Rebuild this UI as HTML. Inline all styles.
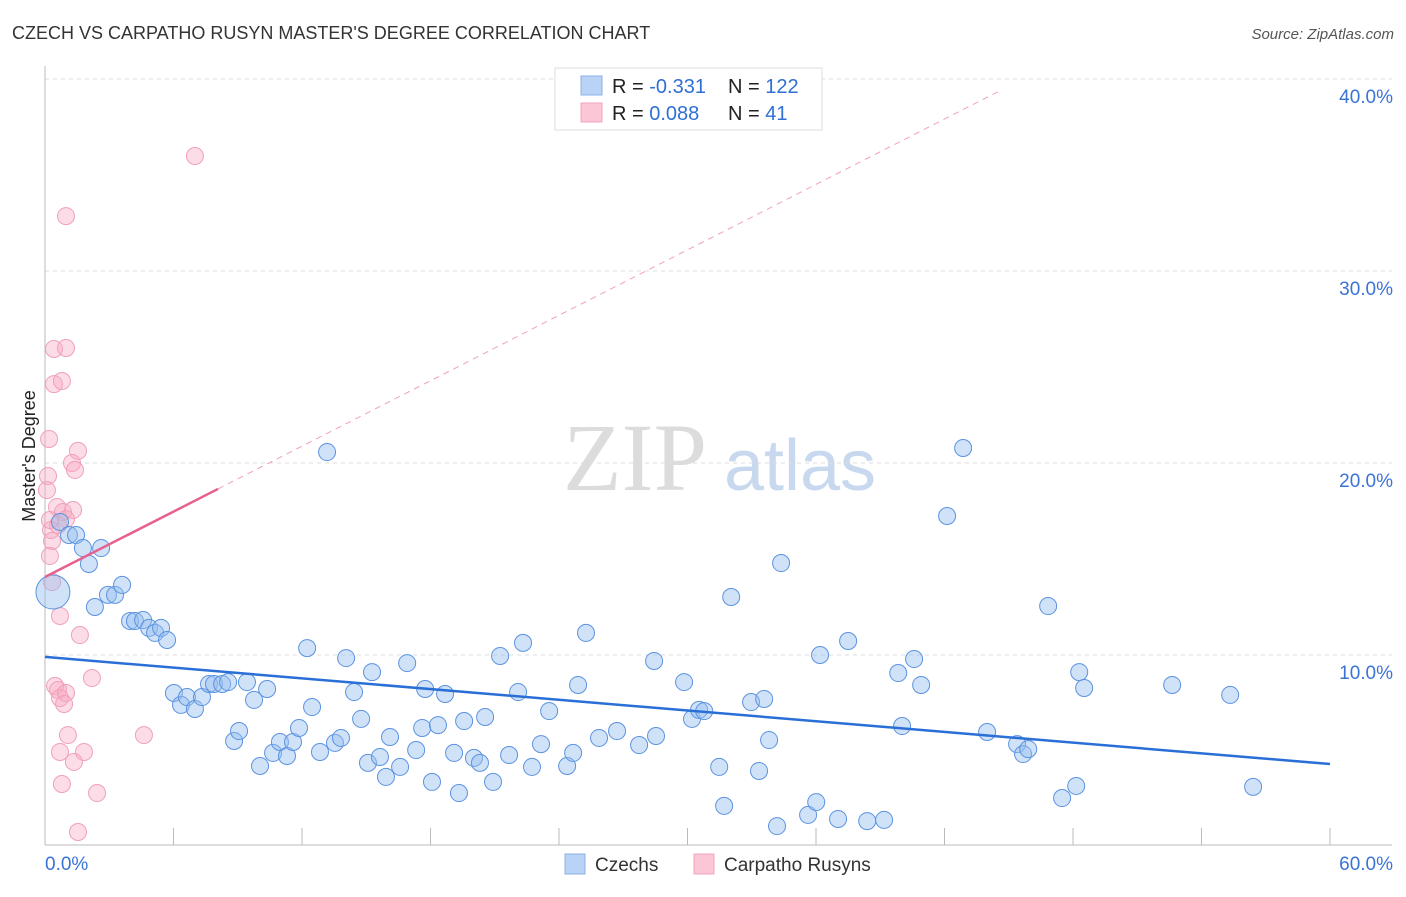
<!DOCTYPE html>
<html><head><meta charset="utf-8"><style>
body{margin:0;background:#fff;font-family:"Liberation Sans",sans-serif;}
svg text{font-family:"Liberation Sans",sans-serif;}
</style></head><body>
<svg id="chart" width="1406" height="892" xmlns="http://www.w3.org/2000/svg">
<text x="12" y="39" font-size="18" fill="#333">CZECH VS CARPATHO RUSYN MASTER'S DEGREE CORRELATION CHART</text>
<text x="1394" y="39" font-size="15" fill="#555" font-style="italic" text-anchor="end">Source: ZipAtlas.com</text>
<text x="35" y="456" font-size="18" fill="#222" text-anchor="middle" transform="rotate(-90 35 456)">Master's Degree</text>
<g>
<text x="635" y="490" font-size="96" fill="#dcdcdc" text-anchor="middle" font-family="Liberation Serif" style="font-family:'Liberation Serif',serif">ZIP</text>
<text x="800" y="490" font-size="72" fill="#c8d9ef" text-anchor="middle">atlas</text>
</g>
<g id="grid"></g><g id="axes"></g><g id="pts"></g><g id="lines"></g>
<g>
<rect x="555" y="68" width="267" height="62" fill="#fff" stroke="#ddd"/>
<rect x="581" y="76" width="21" height="19" fill="#b9d3f6" stroke="#8ab0e6"/>
<rect x="581" y="103" width="21" height="19" fill="#fbc7d6" stroke="#f1a3bb"/>
<text x="612" y="93" font-size="20" fill="#222">R = <tspan fill="#2f6fd6">-0.331</tspan></text>
<text x="728" y="93" font-size="20" fill="#222">N = <tspan fill="#2f6fd6">122</tspan></text>
<text x="612" y="120" font-size="20" fill="#222">R = <tspan fill="#2f6fd6"> 0.088</tspan></text>
<text x="728" y="120" font-size="20" fill="#222">N = <tspan fill="#2f6fd6">  41</tspan></text>
</g>
<g>
<rect x="565" y="854" width="20" height="20" fill="#b9d3f6" stroke="#8ab0e6"/>
<text x="595" y="871" font-size="19" fill="#333">Czechs</text>
<rect x="694" y="854" width="20" height="20" fill="#fbc7d6" stroke="#f1a3bb"/>
<text x="724" y="871" font-size="19" fill="#333">Carpatho Rusyns</text>
</g>
</svg>
<script>
const yTicks=[10,20,30,40];
const yTickLabels=["10.0%","20.0%","30.0%","40.0%"];
const xTickLabels=["0.0%","60.0%"];
const czX=[0.37,0.70,1.12,1.45,1.77,2.05,2.62,2.33,2.94,3.27,3.60,3.97,4.20,4.58,4.86,5.14,5.42,5.70,6.02,6.35,6.63,7.00,7.33,7.66,7.89,8.27,8.55,8.83,9.06,9.43,9.76,10.04,10.37,10.65,10.97,11.30,11.58,11.86,12.24,12.47,12.84,13.17,13.54,13.82,14.06,14.43,14.76,15.08,15.27,15.64,15.92,16.11,16.58,16.91,17.33,17.75,18.07,17.61,18.35,18.68,19.33,19.57,19.10,20.03,20.31,20.55,20.92,21.25,21.67,22.09,22.32,22.74,23.16,23.54,24.38,24.66,24.89,25.26,25.87,26.71,27.74,28.44,28.53,29.84,30.21,30.54,30.78,31.48,31.71,32.04,32.97,33.34,33.58,33.81,34.18,34.37,35.63,36.01,36.19,37.03,37.50,38.39,39.18,39.84,40.02,40.58,40.91,42.12,42.87,43.99,45.39,45.67,45.91,46.84,47.49,48.15,48.29,48.52,52.63,55.34,56.41];
const czY=[13.28,16.93,16.25,16.25,15.57,14.74,15.57,12.50,13.13,13.13,13.65,11.77,11.77,11.82,11.41,11.15,11.41,10.78,8.02,7.40,7.81,7.19,7.81,8.49,8.49,8.49,8.59,5.52,6.04,8.59,7.66,4.22,8.23,4.90,5.47,4.74,5.47,6.20,10.36,7.29,4.95,20.57,5.42,5.68,9.84,8.07,6.67,4.38,9.11,4.69,3.65,5.73,4.17,9.58,5.05,8.23,3.39,6.20,6.35,7.97,2.81,6.56,4.90,4.64,4.38,6.77,3.39,9.95,4.79,8.07,10.63,4.17,5.36,7.08,4.22,4.90,8.44,11.15,5.68,6.04,5.31,9.69,5.78,8.59,6.67,7.14,7.08,4.17,2.14,13.02,7.55,3.96,7.71,5.57,1.09,14.79,1.67,2.34,10.0,1.46,10.73,1.35,1.41,9.06,6.30,9.79,8.44,17.24,20.78,5.99,5.36,4.84,5.10,12.55,2.55,3.18,9.11,8.28,8.44,7.92,3.13];
const czSize=[2];
const ruX=[7.00,0.98,0.42,0.98,0.42,0.79,0.19,1.54,1.26,1.40,0.14,0.09,0.56,0.84,1.31,0.98,0.61,0.28,0.33,0.23,0.33,0.70,1.63,0.47,0.61,0.70,0.98,0.89,2.19,1.07,0.70,1.82,1.35,0.79,2.43,4.62,1.54,0.23];
const ruY=[35.99,32.86,25.94,25.99,24.11,24.27,21.25,20.63,20.0,19.64,19.32,18.59,17.71,17.45,17.55,17.08,16.77,16.51,15.94,15.16,13.80,12.03,11.04,8.39,8.18,7.76,8.02,7.45,8.80,5.83,4.95,4.95,4.43,3.28,2.81,5.83,0.78,17.03];
const czLine=[9.9,4.32];     // y at x=0 and x=60
const ruLine=[14.06,0.568]; // intercept, slope
const ruSolidEnd=8.08, ruDashEnd=44.6;

const X=v=>45+v/60*1285, Y=v=>847-v*19.2;
const NS="http://www.w3.org/2000/svg";
function mk(tag,attrs,parent){const e=document.createElementNS(NS,tag);for(const k in attrs)e.setAttribute(k,attrs[k]);parent.appendChild(e);return e;}
const grid=document.getElementById('grid'),axes=document.getElementById('axes'),pts=document.getElementById('pts'),lines=document.getElementById('lines');
yTicks.forEach((t,i)=>{
  const l=mk('line',{x1:45,x2:1392,y1:Y(t),y2:Y(t),stroke:'#ddd','stroke-dasharray':'4 4'},grid);
  
  
  const tx=mk('text',{x:1393,y:Y(t)+24,'font-size':19,fill:'#3a73d6','text-anchor':'end'},grid);
  tx.textContent=yTickLabels[i];
  
  
});
const ax=mk('line',{x1:45,x2:45,y1:66,y2:845,stroke:'#bbb'},axes);


const bx=mk('line',{x1:45,x2:1392,y1:845,y2:845,stroke:'#bbb'},axes);


for(let i=0;i<=10;i++){const tk=mk('line',{x1:X(i*6),x2:X(i*6),y1:828,y2:845,stroke:'#bbb'},axes);
  
  }
[[0,'start',45],[60,'end',1393]].forEach((d,i)=>{const t=mk('text',{x:d[2],y:870,'font-size':19,fill:'#3a73d6','text-anchor':d[1]},axes);t.textContent=xTickLabels[i];
  
  });
ruX.forEach((x,i)=>{const c=mk('circle',{cx:X(x),cy:Y(ruY[i]),r:8.5,fill:'rgba(248,170,195,0.4)',stroke:'#f0a0b8','stroke-width':1},pts);
  
  });
czX.forEach((x,i)=>{const c=mk('circle',{cx:X(x),cy:Y(czY[i]),r:i==0?17:8.5,fill:'rgba(150,190,240,0.45)',stroke:'#5b93e0','stroke-width':1},pts);
  
  });
const bl=mk('line',{x1:X(0),y1:Y(czLine[0]),x2:X(60),y2:Y(czLine[1]),stroke:'#2a6fd6','stroke-width':2.5},lines);


const rs=mk('line',{x1:X(0),y1:Y(ruLine[0]),x2:X(ruSolidEnd),y2:Y(ruLine[0]+ruLine[1]*ruSolidEnd),stroke:'#e8608e','stroke-width':2.5},lines);


const rd=mk('line',{x1:X(ruSolidEnd),y1:Y(ruLine[0]+ruLine[1]*ruSolidEnd),x2:X(ruDashEnd),y2:Y(ruLine[0]+ruLine[1]*ruDashEnd),stroke:'#f0a0b8','stroke-width':1,'stroke-dasharray':'6 5'},lines);


</script>
</body></html>
